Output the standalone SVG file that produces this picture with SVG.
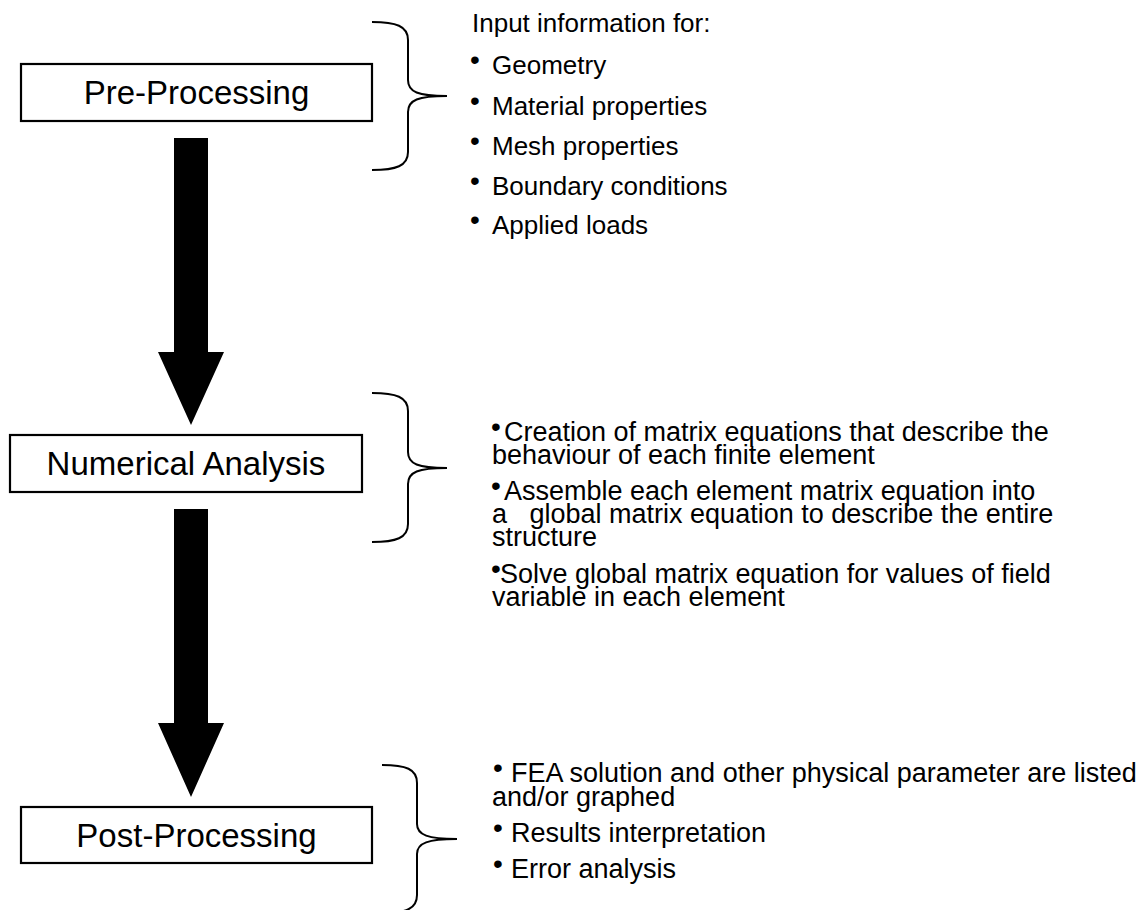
<svg xmlns="http://www.w3.org/2000/svg" width="1136" height="910" viewBox="0 0 1136 910">
<style>
.box{fill:#fff;stroke:#000;stroke-width:2.2}
.lbl{font-family:"Liberation Sans",Arial,sans-serif;font-size:33px;fill:#000;text-anchor:middle}
.txt{font-family:"Liberation Sans",Arial,sans-serif;font-size:26px;fill:#000}
.t2{font-size:27px}
.b{font-size:28px}
.brace{fill:none;stroke:#000;stroke-width:2}
.arrow{fill:#000;stroke:none}
</style>
<rect width="1136" height="910" fill="#fff"/>
<g id="connectors">
<path class="arrow" d="M174,138 H208 V352 H224 L191,425 L158,352 H174 Z"/>
<path class="arrow" d="M174,509 H208 V723 H224 L191,797 L158,723 H174 Z"/>
</g>
<g id="pre-processing">
<rect class="box" x="21" y="64" width="351" height="57"/>
<text class="lbl" x="196.5" y="104">Pre-Processing</text>
</g>
<g id="numerical-analysis">
<rect class="box" x="10" y="435" width="352" height="57"/>
<text class="lbl" x="186" y="475">Numerical Analysis</text>
</g>
<g id="post-processing">
<rect class="box" x="21" y="807" width="351" height="56"/>
<text class="lbl" x="196.5" y="847">Post-Processing</text>
</g>
<g id="pre-notes">
<path class="brace" d="M372,22 C396,22 408,26 408,40 L408,80 C408,92 418,96 447,96 C418,96 408,100 408,112 L408,152 C408,166 396,170 372,170"/>
<text class="txt" x="472" y="32">Input information for:</text>
<text class="txt" y="74"><tspan class="b" x="470" dy="-5">•</tspan><tspan x="492" dy="5">Geometry</tspan></text>
<text class="txt" y="115"><tspan class="b" x="470" dy="-5">•</tspan><tspan x="492" dy="5">Material properties</tspan></text>
<text class="txt" y="155"><tspan class="b" x="470" dy="-5">•</tspan><tspan x="492" dy="5">Mesh properties</tspan></text>
<text class="txt" y="195"><tspan class="b" x="470" dy="-5">•</tspan><tspan x="492" dy="5">Boundary conditions</tspan></text>
<text class="txt" y="234"><tspan class="b" x="470" dy="-5">•</tspan><tspan x="492" dy="5">Applied loads</tspan></text>
</g>
<g id="analysis-notes">
<path class="brace" d="M372,393 C396,393 408,397 408,411 L408,452 C408,464 418,468 447,468 C418,468 408,472 408,484 L408,524 C408,538 396,542 372,542"/>
<text class="txt t2" y="441"><tspan class="b" x="491" dy="-5">•</tspan><tspan x="504" dy="5">Creation of matrix equations that describe the</tspan></text>
<text class="txt t2" x="492" y="464">behaviour of each finite element</text>
<text class="txt t2" y="500"><tspan class="b" x="491" dy="-5">•</tspan><tspan x="504" dy="5">Assemble each element matrix equation into</tspan></text>
<text class="txt t2" x="492" y="523" xml:space="preserve">a   global matrix equation to describe the entire</text>
<text class="txt t2" x="492" y="546">structure</text>
<text class="txt t2" y="583"><tspan class="b" x="491" dy="-5">•</tspan><tspan x="500" dy="5">Solve global matrix equation for values of field</tspan></text>
<text class="txt t2" x="492" y="606">variable in each element</text>
</g>
<g id="post-notes">
<path class="brace" d="M382,765 C406,765 417,769 417,783 L417,824 C417,835 428,839 457,839 C428,839 417,843 417,854 L417,895 C417,909 406,913 382,913"/>
<text class="txt t2" y="782"><tspan class="b" x="493" dy="-5">•</tspan><tspan x="511" dy="5">FEA solution and other physical parameter are listed</tspan></text>
<text class="txt t2" x="492" y="806">and/or graphed</text>
<text class="txt t2" y="842"><tspan class="b" x="493" dy="-5">•</tspan><tspan x="511" dy="5">Results interpretation</tspan></text>
<text class="txt t2" y="878"><tspan class="b" x="493" dy="-5">•</tspan><tspan x="511" dy="5">Error analysis</tspan></text>
</g>
</svg>
